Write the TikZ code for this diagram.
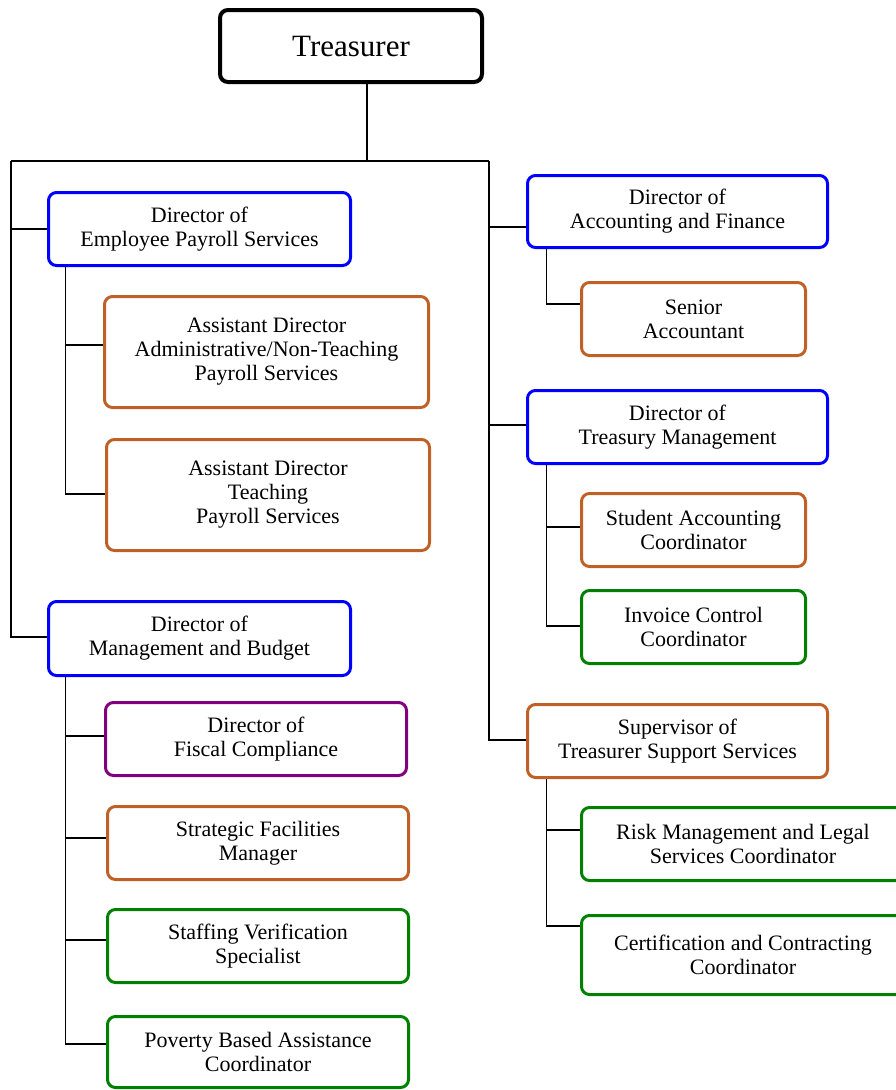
\documentclass[tikz,border=0pt]{standalone}
\usepackage{fontspec}
\setmainfont{Liberation Serif}
\usepackage{tikz}
\usetikzlibrary{positioning}
\definecolor{dirblue}{RGB}{0,0,255}
\definecolor{asstorange}{RGB}{191,97,38}
\definecolor{coordgreen}{RGB}{0,128,0}
\definecolor{fiscpurple}{RGB}{128,0,128}
\newcommand{\boxfont}{\fontsize{22}{24}\selectfont}
\begin{document}
\begin{tikzpicture}[x=1pt,y=-1pt]
\useasboundingbox (0,0) rectangle (896,1090);
%\tikzstyle{place}=[rounded corners,draw,thick]
\begin{scope}[every node/.style={draw,rounded corners=8pt,line width=3pt,align=center,inner sep=0pt,font=\boxfont}]
    \node[line width=4pt,font=\fontsize{31}{34}\selectfont,minimum width=262pt,minimum height=72pt] (tr) at (351,46) {Treasurer};
    % left column
    \node[dirblue,text=black,minimum width=302pt,minimum height=73pt] (eps) at (199.5,229) {Director of\\Employee Payroll Services};
    \node[asstorange,text=black,minimum width=324pt,minimum height=111pt] (ada) at (266.5,352) {Assistant Director\\Administrative/Non-Teaching\\Payroll Services};
    \node[asstorange,text=black,minimum width=323pt,minimum height=111pt] (adt) at (268,495) {Assistant Director\\Teaching\\Payroll Services};
    \node[dirblue,text=black,minimum width=302pt,minimum height=74pt] (mb) at (199.5,638.5) {Director of\\Management and Budget};
    \node[fiscpurple,text=black,minimum width=301pt,minimum height=73pt] (fc) at (256,739) {Director of\\Fiscal Compliance};
    \node[asstorange,text=black,minimum width=301pt,minimum height=73pt] (sfm) at (258,843) {Strategic Facilities\\Manager};
    \node[coordgreen,text=black,minimum width=301pt,minimum height=73pt] (svs) at (258,946) {Staffing Verification\\Specialist};
    \node[coordgreen,text=black,minimum width=301pt,minimum height=71pt] (pba) at (258,1052) {Poverty Based Assistance\\Coordinator};
    % right column
    \node[dirblue,text=black,minimum width=300pt,minimum height=72pt] (af) at (677.5,211.5) {Director of\\Accounting and Finance};
    \node[asstorange,text=black,minimum width=224pt,minimum height=73pt] (sa) at (693.5,319) {Senior\\Accountant};
    \node[dirblue,text=black,minimum width=300pt,minimum height=73pt] (tm) at (677.5,427) {Director of\\Treasury Management};
    \node[asstorange,text=black,minimum width=224pt,minimum height=73pt] (sac) at (693.5,530) {Student Accounting\\Coordinator};
    \node[coordgreen,text=black,minimum width=224pt,minimum height=73pt] (icc) at (693.5,627) {Invoice Control\\Coordinator};
    \node[asstorange,text=black,minimum width=300pt,minimum height=73pt] (tss) at (677.5,741) {Supervisor of\\Treasurer Support Services};
    \node[coordgreen,text=black,minimum width=323pt,minimum height=73pt] (rml) at (743,844) {Risk Management and Legal\\Services Coordinator};
    \node[coordgreen,text=black,minimum width=323pt,minimum height=79pt] (ccc) at (743,955) {Certification and Contracting\\Coordinator};
\end{scope}
\begin{scope}[line width=1.5pt]
    \coordinate (bus) at (367,161);
    \coordinate (lbus) at (11,161);
    \coordinate (rbus) at (489,161);
    \draw (tr.south -| bus) -- (bus);
    \draw (lbus) -- (rbus);
    % left branches
    \draw (lbus) |- (eps.west);
    \draw (lbus) |- ([yshift=1.5pt]mb.west);
    \draw ([xshift=18.5pt]eps.south west) |- ([yshift=7pt]ada.west);
    \draw ([xshift=18.5pt]eps.south west) |- ([yshift=1pt]adt.west);
    \draw ([xshift=18.5pt]mb.south west) |- ([yshift=3pt]fc.west);
    \draw ([xshift=18.5pt]mb.south west) |- ([yshift=5pt]sfm.west);
    \draw ([xshift=18.5pt]mb.south west) |- ([yshift=6pt]svs.west);
    \draw ([xshift=18.5pt]mb.south west) |- ([yshift=8pt]pba.west);
    % right branches
    \draw (rbus) |- ([yshift=-15.5pt]af.west);
    \draw (rbus) |- ([yshift=2pt]tm.west);
    \draw (rbus) |- ([yshift=1pt]tss.west);
    \draw ([xshift=20.5pt]af.south west) |- ([yshift=15pt]sa.west);
    \draw ([xshift=20.5pt]tm.south west) |- ([yshift=3pt]sac.west);
    \draw ([xshift=20.5pt]tm.south west) |- ([yshift=1pt]icc.west);
    \draw ([xshift=20.5pt]tss.south west) |- ([yshift=14pt]rml.west);
    \draw ([xshift=20.5pt]tss.south west) |- ([yshift=29pt]ccc.west);
\end{scope}
\end{tikzpicture}
\end{document}
